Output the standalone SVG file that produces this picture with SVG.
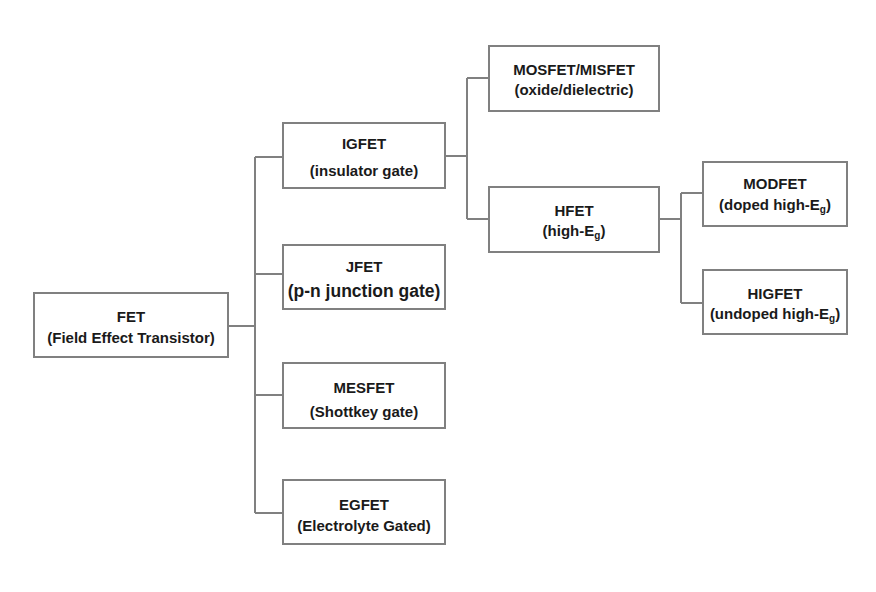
<svg xmlns="http://www.w3.org/2000/svg" width="876" height="592" viewBox="0 0 876 592">
<style>
.box{fill:#ffffff;stroke:#808080;stroke-width:2}
.con{fill:none;stroke:#808080;stroke-width:2}
text{font-family:"Liberation Sans",Arial,sans-serif;font-weight:bold;font-size:15px;fill:#1a1a1a;text-anchor:middle}
.big{font-size:17.5px}
.sub{font-size:10px}
</style>
<rect width="876" height="592" fill="#ffffff"/>
<g id="connectors">
<path class="con" d="M228 326H255M255 157V513M255 157H283M255 274H283M255 395H283M255 513H283"/>
<path class="con" d="M445 156H467M467 78V219M467 78H489M467 219H489"/>
<path class="con" d="M659 219H681M681 193V303M681 193H703M681 303H703"/>
</g>
<g id="fet"><rect class="box" x="34" y="293" width="194" height="64"/><text x="131" y="321.5">FET</text><text x="131" y="342.5">(Field Effect Transistor)</text></g>
<g id="igfet"><rect class="box" x="283" y="123" width="162" height="65"/><text x="364" y="148.5">IGFET</text><text x="364" y="175.5">(insulator gate)</text></g>
<g id="jfet"><rect class="box" x="283" y="245" width="162" height="64"/><text x="364" y="271.5">JFET</text><text class="big" x="364" y="296.5">(p-n junction gate)</text></g>
<g id="mesfet"><rect class="box" x="283" y="363" width="162" height="65"/><text x="364" y="392.5">MESFET</text><text x="364" y="416.5">(Shottkey gate)</text></g>
<g id="egfet"><rect class="box" x="283" y="480" width="162" height="64"/><text x="364" y="509.5">EGFET</text><text x="364" y="530.5">(Electrolyte Gated)</text></g>
<g id="mosfet"><rect class="box" x="489" y="46" width="170" height="65"/><text x="574" y="74.5">MOSFET/MISFET</text><text x="574" y="95">(oxide/dielectric)</text></g>
<g id="hfet"><rect class="box" x="489" y="187" width="170" height="65"/><text x="574" y="215.5">HFET</text><text x="574" y="235.5">(high-E<tspan class="sub" dy="3">g</tspan><tspan dy="-3">)</tspan></text></g>
<g id="modfet"><rect class="box" x="703" y="162" width="144" height="64"/><text x="775" y="188.5">MODFET</text><text x="775" y="209.5">(doped high-E<tspan class="sub" dy="3">g</tspan><tspan dy="-3">)</tspan></text></g>
<g id="higfet"><rect class="box" x="703" y="270" width="144" height="64"/><text x="775" y="298.5">HIGFET</text><text x="775" y="319">(undoped high-E<tspan class="sub" dy="3">g</tspan><tspan dy="-3">)</tspan></text></g>
</svg>
